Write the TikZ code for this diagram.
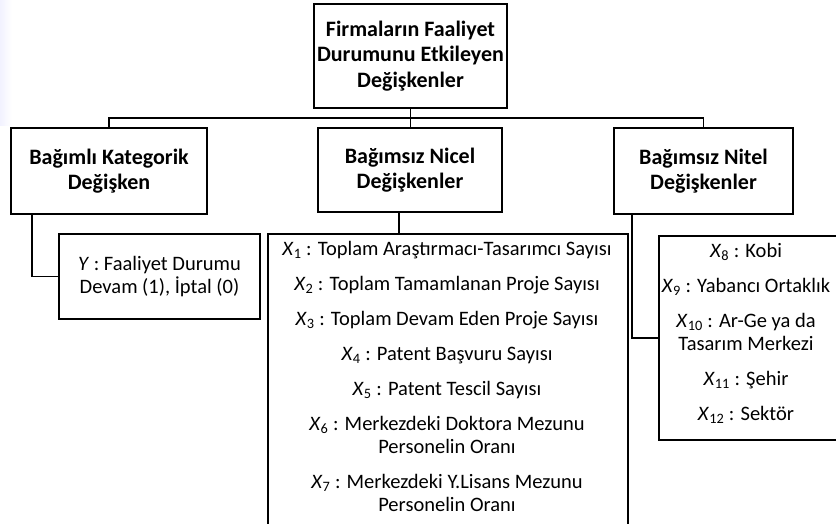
\documentclass[tikz,border=0pt]{standalone}
\usepackage{fontspec}
\setmainfont{Carlito}
\newcommand{\xv}[1]{\textit{X}\textsubscript{#1}}
\tikzset{
  box/.style={draw, line width=1.7pt, rectangle, inner sep=0pt},
  ttl/.style={font=\fontsize{22}{25.5}\selectfont\bfseries, align=center},
  body/.style={font=\fontsize{20.5}{23}\selectfont, align=center, inner sep=0pt},
  conn/.style={line width=1.7pt},
}
\begin{document}
\begin{tikzpicture}[x=1pt,y=-1pt]
\useasboundingbox (0,0) rectangle (836,523);
\clip (0,0) rectangle (836,523);
\fill[left color=blue!5, right color=white] (0,0) rectangle (12,125);

% title boxes
\node[box, ttl, minimum width=193pt, minimum height=104pt] (top) at (410.5,56) {Firmaların Faaliyet\\Durumunu Etkileyen\\Değişkenler};
\node[box, ttl, minimum width=196pt, minimum height=86pt] (left) at (109,171) {Bağımlı Kategorik\\Değişken};
\node[box, ttl, minimum width=184pt, minimum height=84pt] (mid) at (410,170) {Bağımsız Nicel\\Değişkenler};
\node[box, ttl, minimum width=179pt, minimum height=86pt] (right) at (703.5,171) {Bağımsız Nitel\\Değişkenler};

% content boxes
\node[box, body, minimum width=201pt, minimum height=85pt] (ybox) at (159.5,276.5) {\textit{Y} : Faaliyet Durumu\\Devam (1), İptal (0)};

\node[box, anchor=north west, minimum width=360pt, minimum height=310pt] (xbox) at (267,233) {};
\node[body, anchor=north] (xtext) at (447,241) {%
\xv{1} : Toplam Araştırmacı-Tasarımcı Sayısı\\[12pt]
\xv{2} : Toplam Tamamlanan Proje Sayısı\\[12pt]
\xv{3} : Toplam Devam Eden Proje Sayısı\\[12pt]
\xv{4} : Patent Başvuru Sayısı\\[12pt]
\xv{5} : Patent Tescil Sayısı\\[12pt]
\xv{6} : Merkezdeki Doktora Mezunu\\Personelin Oranı\\[12pt]
\xv{7} : Merkezdeki Y.Lisans Mezunu\\Personelin Oranı};

\node[box, anchor=north west, minimum width=190pt, minimum height=204pt] (kbox) at (658,235) {};
\node[body, anchor=north] (ktext) at (746,243) {%
\xv{8} : Kobi\\[12pt]
\xv{9} : Yabancı Ortaklık\\[12pt]
\xv{10} : Ar-Ge ya da\\Tasarım Merkezi\\[12pt]
\xv{11} : Şehir\\[12pt]
\xv{12} : Sektör};

% connectors
\coordinate (bus) at (0,118);
\coordinate (lx) at (32,0);
\coordinate (mx) at (399,0);
\coordinate (rx) at (632,0);
\draw[conn] (top.south) -- (top.south |- mid.north);
\draw[conn] (left.north) -- (left.north |- bus) -- (right.north |- bus) -- (right.north);
\draw[conn] (left.south -| lx) |- (ybox.west);
\draw[conn] (mid.south -| mx) -- (xbox.north -| mx);
\draw[conn] (right.south -| rx) |- (kbox.west);
\end{tikzpicture}
\end{document}
